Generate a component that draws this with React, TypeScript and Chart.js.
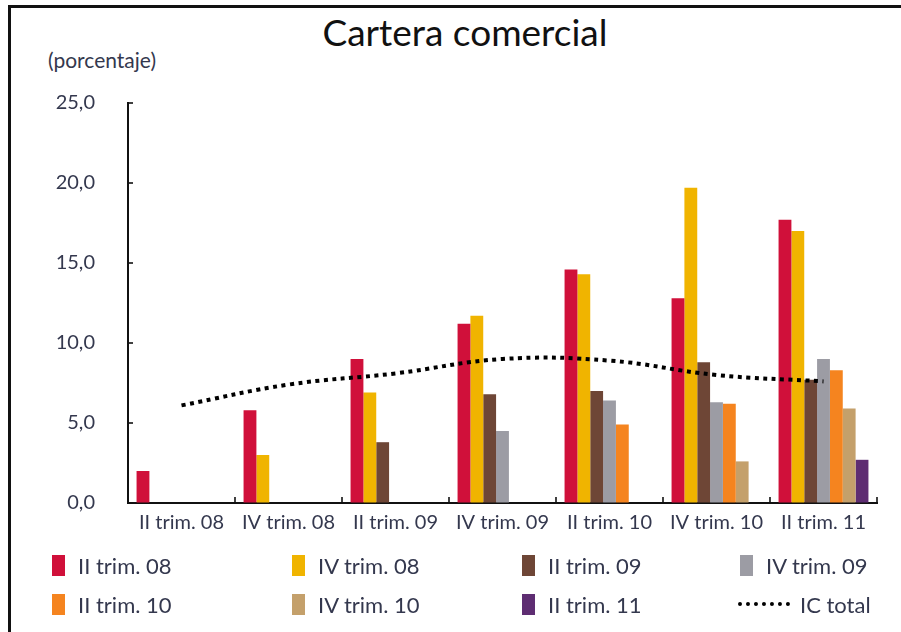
import React, { useEffect, useRef } from "react";
import { Chart, registerables } from "chart.js";

Chart.register(...registerables);

const title = "Cartera comercial";
const unitLabel = "(porcentaje)";
const categories = ["II trim. 08", "IV trim. 08", "II trim. 09", "IV trim. 09", "II trim. 10", "IV trim. 10", "II trim. 11"];
const seriesNames = ["II trim. 08", "IV trim. 08", "II trim. 09", "IV trim. 09", "II trim. 10", "IV trim. 10", "II trim. 11"];
const iiTrim08 = [2.0, 5.8, 9.0, 11.2, 14.6, 12.8, 17.7];
const ivTrim08 = [null, 3.0, 6.9, 11.7, 14.3, 19.7, 17.0];
const iiTrim09 = [null, null, 3.8, 6.8, 7.0, 8.8, 7.7];
const ivTrim09 = [null, null, null, 4.5, 6.4, 6.3, 9.0];
const iiTrim10 = [null, null, null, null, 4.9, 6.2, 8.3];
const ivTrim10 = [null, null, null, null, null, 2.6, 5.9];
const iiTrim11 = [null, null, null, null, null, null, 2.7];
const icTotalName = "IC total";
const icTotal = [6.1, 7.4, 8.1, 9.0, 8.9, 8.0, 7.6];
const yTicks = [0, 5, 10, 15, 20, 25];

const seriesValues = [iiTrim08, ivTrim08, iiTrim09, ivTrim09, iiTrim10, ivTrim10, iiTrim11];
const seriesColors = ["#d0103a", "#f0b400", "#6e4636", "#9c9ca4", "#f5841f", "#c4a06b", "#5e2d72"];

const FONT = "Lato, 'Open Sans', sans-serif";
const TEXT = "#34384e";

const innerTicks = {
  id: "innerTicks",
  afterDraw(chart: any) {
    const { ctx, chartArea } = chart;
    const x = chart.scales.x;
    const y = chart.scales.y;
    ctx.save();
    ctx.strokeStyle = "#111";
    ctx.lineWidth = 1.6;
    const n = categories.length;
    const w = (x.right - x.left) / n;
    for (let i = 1; i <= n; i++) {
      const px = Math.round(x.left + i * w);
      ctx.beginPath();
      ctx.moveTo(px, chartArea.bottom);
      ctx.lineTo(px, chartArea.bottom - 6);
      ctx.stroke();
    }
    yTicks.forEach((v) => {
      const py = Math.round(y.getPixelForValue(v));
      ctx.beginPath();
      ctx.moveTo(chartArea.left, py);
      ctx.lineTo(chartArea.left + 5, py);
      ctx.stroke();
    });
    ctx.restore();
  },
};

function ChartCanvas() {
  const ref = useRef<HTMLCanvasElement | null>(null);
  useEffect(() => {
    if (!ref.current) return;
    const datasets: any[] = seriesValues.map((vals, i) => ({
      type: "bar",
      label: seriesNames[i],
      data: vals,
      backgroundColor: seriesColors[i],
      borderWidth: 0,
      categoryPercentage: 0.84,
      barPercentage: 1.0,
      order: 2,
    }));
    datasets.push({
      type: "line",
      label: icTotalName,
      data: icTotal,
      borderColor: "#000",
      borderWidth: 4,
      borderDash: [4, 4.5],
      borderCapStyle: "butt",
      pointRadius: 0,
      tension: 0.4,
      fill: false,
      order: 0,
    });
    const chart = new Chart(ref.current, {
      type: "bar",
      data: { labels: categories, datasets },
      options: {
        animation: false,
        responsive: false,
        maintainAspectRatio: false,
        layout: { padding: { left: 0, right: 24, top: 103, bottom: 0 } },
        plugins: { legend: { display: false }, tooltip: { enabled: false }, title: { display: false } },
        scales: {
          x: {
            offset: true,
            grid: { display: true, drawOnChartArea: false, drawTicks: false, offset: true },
            border: { display: true, color: "#111", width: 2 },
            ticks: { color: TEXT, font: { family: FONT, size: 20 }, padding: 8, maxRotation: 0, autoSkip: false },
            afterFit: (s: any) => { s.height = 129; },
          },
          y: {
            min: 0,
            max: 25,
            grid: { display: true, drawOnChartArea: false, drawTicks: false },
            border: { display: true, color: "#111", width: 2 },
            afterBuildTicks: (s: any) => { s.ticks = yTicks.map((v) => ({ value: v })); },
            ticks: {
              color: TEXT,
              font: { family: FONT, size: 20 },
              padding: 33,
              callback: (v: any) => Number(v).toFixed(1).replace(".", ","),
            },
            afterFit: (s: any) => { s.width = 128; },
          },
        },
      },
      plugins: [innerTicks],
    });
    return () => chart.destroy();
  }, []);
  return <canvas ref={ref} width={901} height={632} style={{ position: "absolute", left: 0, top: 0, width: 901, height: 632 }} />;
}

const legendCols = [52, 292, 522, 740];
const legendRows = [565, 604];

export default function App() {
  const entries = seriesNames.map((n, i) => ({ name: n, color: seriesColors[i], line: false }));
  entries.push({ name: icTotalName, color: "#000", line: true });
  return (
    <div style={{ position: "fixed", left: 0, top: 0, width: 901, height: 632, background: "#fff", overflow: "hidden", fontFamily: FONT }}>
      <div style={{ position: "absolute", left: 8, top: 5, width: 893, height: 3, background: "#111" }} />
      <div style={{ position: "absolute", left: 8, top: 5, width: 3, height: 627, background: "#111" }} />
      <div style={{ position: "absolute", left: 0, width: 930, top: 10, textAlign: "center", fontSize: 37, color: "#111", lineHeight: "44px" }}>{title}</div>
      <div style={{ position: "absolute", left: 48, top: 47, fontSize: 21, color: TEXT, lineHeight: "26px" }}>{unitLabel}</div>
      <ChartCanvas />
      {entries.map((e, i) => {
        const col = i % 4;
        const row = Math.floor(i / 4);
        const x = legendCols[col];
        const y = legendRows[row];
        return (
          <div key={i} style={{ position: "absolute", left: x - (e.line ? 2 : 0), top: y - 14, height: 28, display: "flex", alignItems: "center" }}>
            {e.line ? (
              <div style={{ width: 52, height: 0, borderTop: "4px dotted #000", marginRight: 10 }} />
            ) : (
              <div style={{ width: 13, height: 21, background: e.color, marginRight: 13 }} />
            )}
            <span style={{ fontSize: 22, color: TEXT, whiteSpace: "nowrap" }}>{e.name}</span>
          </div>
        );
      })}
    </div>
  );
}
